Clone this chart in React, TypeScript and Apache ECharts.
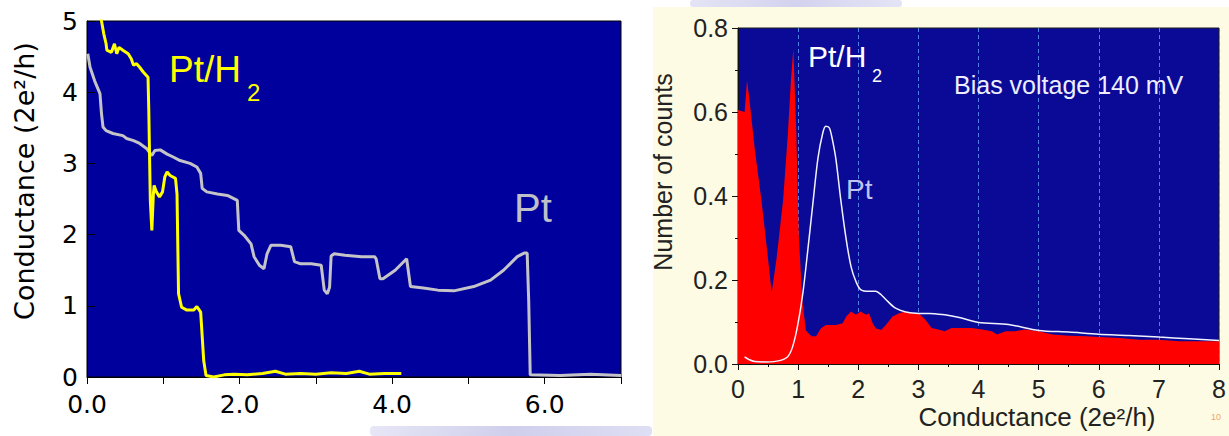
import React, { useEffect, useRef } from "react";
import * as echarts from "echarts";

// Left panel: conductance traces during contact breaking (x: electrode displacement)
const ptH2TraceX = [0.17, 0.19, 0.22, 0.25, 0.26, 0.32, 0.36, 0.39, 0.42, 0.47, 0.54, 0.58, 0.61, 0.65, 0.69, 0.74, 0.80, 0.81, 0.83, 0.85, 0.87, 0.88, 0.91, 0.95, 0.99, 1.02, 1.05, 1.09, 1.16, 1.18, 1.20, 1.24, 1.31, 1.40, 1.44, 1.49, 1.53, 1.56, 1.66, 1.80, 1.93, 2.10, 2.30, 2.47, 2.60, 2.80, 3.00, 3.20, 3.40, 3.57, 3.70, 3.90, 4.12];
const ptH2TraceY = [5.15, 5.0, 4.82, 4.68, 4.59, 4.56, 4.68, 4.54, 4.63, 4.59, 4.54, 4.47, 4.38, 4.40, 4.35, 4.28, 4.21, 3.75, 2.48, 2.06, 2.57, 2.69, 2.60, 2.53, 2.60, 2.81, 2.88, 2.83, 2.79, 2.57, 1.17, 0.98, 0.94, 0.94, 0.99, 0.91, 0.23, 0.02, 0.0, 0.03, 0.04, 0.03, 0.05, 0.08, 0.04, 0.05, 0.04, 0.06, 0.05, 0.08, 0.04, 0.05, 0.05];

const ptTraceX = [0.01, 0.04, 0.10, 0.17, 0.19, 0.21, 0.25, 0.34, 0.47, 0.52, 0.61, 0.69, 0.78, 0.85, 0.89, 0.96, 1.05, 1.13, 1.22, 1.35, 1.44, 1.49, 1.51, 1.57, 1.71, 1.84, 1.97, 1.99, 2.06, 2.15, 2.19, 2.26, 2.32, 2.36, 2.41, 2.54, 2.67, 2.72, 2.80, 2.94, 3.07, 3.11, 3.15, 3.18, 3.20, 3.24, 3.38, 3.60, 3.77, 3.79, 3.84, 3.88, 4.04, 4.19, 4.24, 4.41, 4.60, 4.81, 5.07, 5.29, 5.46, 5.64, 5.73, 5.77, 5.79, 5.81, 6.20, 6.60, 7.00];
const ptTraceY = [4.54, 4.35, 4.16, 3.98, 3.70, 3.51, 3.46, 3.42, 3.39, 3.35, 3.32, 3.28, 3.21, 3.11, 3.18, 3.19, 3.13, 3.09, 3.04, 3.00, 2.95, 2.86, 2.65, 2.60, 2.57, 2.55, 2.48, 2.06, 1.99, 1.87, 1.69, 1.57, 1.52, 1.73, 1.85, 1.85, 1.83, 1.62, 1.59, 1.59, 1.57, 1.22, 1.17, 1.26, 1.70, 1.73, 1.71, 1.69, 1.69, 1.66, 1.38, 1.38, 1.50, 1.66, 1.27, 1.25, 1.22, 1.21, 1.27, 1.36, 1.50, 1.69, 1.74, 1.74, 1.08, 0.03, 0.02, 0.04, 0.02];

// Right panel: conductance histograms
const ptH2HistX = [0, 0.11, 0.15, 0.19, 0.28, 0.39, 0.50, 0.56, 0.64, 0.75, 0.83, 0.88, 0.92, 0.97, 1.01, 1.07, 1.13, 1.22, 1.30, 1.38, 1.46, 1.55, 1.63, 1.74, 1.80, 1.88, 1.96, 2.04, 2.13, 2.18, 2.24, 2.29, 2.38, 2.46, 2.57, 2.68, 2.79, 2.90, 3.01, 3.12, 3.22, 3.33, 3.44, 3.55, 3.72, 3.89, 4.06, 4.22, 4.31, 4.45, 4.61, 4.78, 5.0, 5.23, 5.51, 5.79, 6.0, 6.34, 6.68, 7.0, 7.34, 7.68, 8.0];
const ptH2HistY = [0.605, 0.60, 0.675, 0.63, 0.51, 0.39, 0.25, 0.17, 0.25, 0.39, 0.55, 0.675, 0.75, 0.55, 0.31, 0.15, 0.08, 0.066, 0.066, 0.085, 0.093, 0.093, 0.093, 0.097, 0.113, 0.125, 0.117, 0.125, 0.117, 0.121, 0.097, 0.085, 0.081, 0.093, 0.113, 0.121, 0.125, 0.121, 0.12, 0.105, 0.086, 0.082, 0.078, 0.086, 0.086, 0.086, 0.082, 0.078, 0.07, 0.078, 0.078, 0.082, 0.078, 0.07, 0.067, 0.066, 0.064, 0.062, 0.058, 0.058, 0.054, 0.054, 0.054];

const ptHistX = [0.11, 0.19, 0.28, 0.47, 0.69, 0.83, 0.91, 0.99, 1.08, 1.16, 1.24, 1.33, 1.41, 1.46, 1.52, 1.57, 1.63, 1.71, 1.80, 1.88, 1.96, 2.04, 2.18, 2.29, 2.38, 2.49, 2.62, 2.79, 2.96, 3.18, 3.44, 3.7, 4.0, 4.5, 5.0, 5.5, 6.0, 6.5, 7.0, 7.5, 8.0];
const ptHistY = [0.017, 0.01, 0.006, 0.005, 0.008, 0.018, 0.042, 0.09, 0.17, 0.27, 0.375, 0.49, 0.55, 0.566, 0.562, 0.534, 0.486, 0.39, 0.296, 0.232, 0.197, 0.177, 0.173, 0.173, 0.165, 0.149, 0.133, 0.124, 0.121, 0.12, 0.117, 0.11, 0.099, 0.094, 0.08, 0.076, 0.071, 0.068, 0.064, 0.06, 0.056];

const zip = (xs: number[], ys: number[]) => xs.map((x, i) => [x, ys[i]]);

const SANS = '"Liberation Sans", Arial, sans-serif';
const WIDE = '"DejaVu Sans", sans-serif';

export default function App() {
  const ref = useRef<HTMLDivElement>(null);

  useEffect(() => {
    if (!ref.current) return;
    const chart = echarts.init(ref.current, undefined, { renderer: "svg" });

    const option: any = {
      animation: false,
      backgroundColor: "#ffffff",
      grid: [
        { left: 87, top: 21, width: 534, height: 356, show: true, backgroundColor: "#00009c", borderColor: "#000", borderWidth: 1 },
        { left: 738, top: 28, width: 481, height: 336, show: true, backgroundColor: "#0a0a97", borderColor: "#1a1a1a", borderWidth: 1 },
      ],
      xAxis: [
        {
          gridIndex: 0, type: "value", min: 0, max: 7, interval: 1,
          axisLine: { lineStyle: { color: "#000", width: 1 } },
          axisTick: { length: 7, lineStyle: { color: "#000" } },
          axisLabel: {
            formatter: (v: number) => (v % 2 === 0 ? v.toFixed(1) : ""),
            fontSize: 25, fontFamily: WIDE, color: "#000", margin: 15,
          },
          splitLine: { show: false },
        },
        {
          gridIndex: 1, type: "value", min: 0, max: 8, interval: 1,
          axisLine: { lineStyle: { color: "#111", width: 1 } },
          axisTick: { length: 6, lineStyle: { color: "#111" } },
          minorTick: { show: true, splitNumber: 2, length: 3, lineStyle: { color: "#111" } },
          axisLabel: { fontSize: 25, fontFamily: SANS, color: "#222", margin: 12 },
          splitLine: { show: true, lineStyle: { type: [4, 3], color: "#4f7fe0", width: 1 } },
        },
      ],
      yAxis: [
        {
          gridIndex: 0, type: "value", min: 0, max: 5, interval: 1,
          axisLine: { lineStyle: { color: "#000", width: 1 } },
          axisTick: { inside: true, length: 8, lineStyle: { color: "#000" } },
          axisLabel: { fontSize: 25, fontFamily: WIDE, color: "#000", margin: 9 },
          splitLine: { show: false },
        },
        {
          gridIndex: 1, type: "value", min: 0, max: 0.8, interval: 0.2,
          axisLine: { show: true, lineStyle: { color: "#111", width: 1 } },
          axisTick: { show: true, length: 6, lineStyle: { color: "#111" } },
          minorTick: { show: true, splitNumber: 2, length: 3, lineStyle: { color: "#111" } },
          axisLabel: { formatter: (v: number) => v.toFixed(1), fontSize: 25, fontFamily: SANS, color: "#222", margin: 10 },
          splitLine: { show: false },
        },
      ],
      series: [
        {
          name: "Pt", type: "line", xAxisIndex: 0, yAxisIndex: 0,
          data: zip(ptTraceX, ptTraceY), showSymbol: false, symbol: "none",
          lineStyle: { color: "#c4c4c8", width: 3 }, z: 2,
        },
        {
          name: "Pt/H2", type: "line", xAxisIndex: 0, yAxisIndex: 0,
          data: zip(ptH2TraceX, ptH2TraceY), showSymbol: false, symbol: "none",
          lineStyle: { color: "#ffff00", width: 3 }, z: 3,
        },
        {
          name: "Pt/H2 histogram", type: "line", xAxisIndex: 1, yAxisIndex: 1,
          data: zip(ptH2HistX, ptH2HistY), showSymbol: false, symbol: "none",
          lineStyle: { width: 0, color: "#ff0000" }, areaStyle: { color: "#ff0000", opacity: 1 }, z: 2,
        },
        {
          name: "Pt histogram", type: "line", xAxisIndex: 1, yAxisIndex: 1,
          data: zip(ptHistX, ptHistY), showSymbol: false, symbol: "none", smooth: 0.3,
          lineStyle: { color: "#f2f2ff", width: 1.5 }, z: 3,
        },
      ],
      graphic: [
        // cream panel behind the histogram
        { type: "rect", z: -10, shape: { x: 653, y: 7, width: 576, height: 429 }, style: { fill: "#fdfbe3" } },
        {
          type: "rect", z: -10, shape: { x: 690, y: 0, width: 212, height: 7, r: 3 },
          style: { fill: new echarts.graphic.LinearGradient(0, 0, 1, 0, [
            { offset: 0, color: "#e4e4f6" }, { offset: 0.5, color: "#d2d2ee" }, { offset: 1, color: "#e4e4f6" },
          ]) },
        },
        {
          type: "rect", z: -10, shape: { x: 370, y: 426, width: 282, height: 10, r: 4 },
          style: { fill: new echarts.graphic.LinearGradient(0, 0, 1, 0, [
            { offset: 0, color: "#e6e6f6" }, { offset: 0.5, color: "#cfcfec" }, { offset: 1, color: "#dedef4" },
          ]) },
        },
        // axis titles
        {
          type: "text", x: 24, y: 181, rotation: Math.PI / 2, z: 50,
          style: { text: "Conductance (2e²/h)", fontSize: 27, fontFamily: WIDE, fill: "#000", align: "center", verticalAlign: "middle" },
        },
        {
          type: "text", x: 663, y: 172, rotation: Math.PI / 2, z: 50,
          style: { text: "Number of counts", fontSize: 25, fontFamily: SANS, fill: "#222", align: "center", verticalAlign: "middle" },
        },
        {
          type: "text", x: 1037, y: 417, z: 50,
          style: { text: "Conductance (2e²/h)", fontSize: 26, fontFamily: SANS, fill: "#222", align: "center", verticalAlign: "middle" },
        },
        // annotations, left panel
        { type: "text", x: 169, y: 69, z: 50, style: { text: "Pt/H", fontSize: 37, fontFamily: SANS, fill: "#ffff00", align: "left", verticalAlign: "middle" } },
        { type: "text", x: 247, y: 92, z: 50, style: { text: "2", fontSize: 24, fontFamily: SANS, fill: "#ffff00", align: "left", verticalAlign: "middle" } },
        { type: "text", x: 514, y: 208, z: 50, style: { text: "Pt", fontSize: 40, fontFamily: SANS, fill: "#c0c0c8", align: "left", verticalAlign: "middle" } },
        // annotations, right panel
        { type: "text", x: 808, y: 56, z: 50, style: { text: "Pt/H", fontSize: 30, fontFamily: SANS, fill: "#ffffff", align: "left", verticalAlign: "middle" } },
        { type: "text", x: 872, y: 76, z: 50, style: { text: "2", fontSize: 18, fontFamily: SANS, fill: "#ffffff", align: "left", verticalAlign: "middle" } },
        { type: "text", x: 846, y: 189, z: 50, style: { text: "Pt", fontSize: 28, fontFamily: SANS, fill: "#c0c4ee", align: "left", verticalAlign: "middle" } },
        { type: "text", x: 954, y: 85, z: 50, style: { text: "Bias voltage 140 mV", fontSize: 25, fontFamily: SANS, fill: "#eeeeff", align: "left", verticalAlign: "middle" } },
        { type: "text", x: 1216, y: 417, z: 50, style: { text: "10", fontSize: 9, fontFamily: SANS, fill: "#f2a66a", align: "center", verticalAlign: "middle" } },
      ],
    };

    chart.setOption(option);
    return () => chart.dispose();
  }, []);

  return (
    <div
      ref={ref}
      style={{ position: "absolute", left: 0, top: 0, width: 1229, height: 436 }}
    />
  );
}
